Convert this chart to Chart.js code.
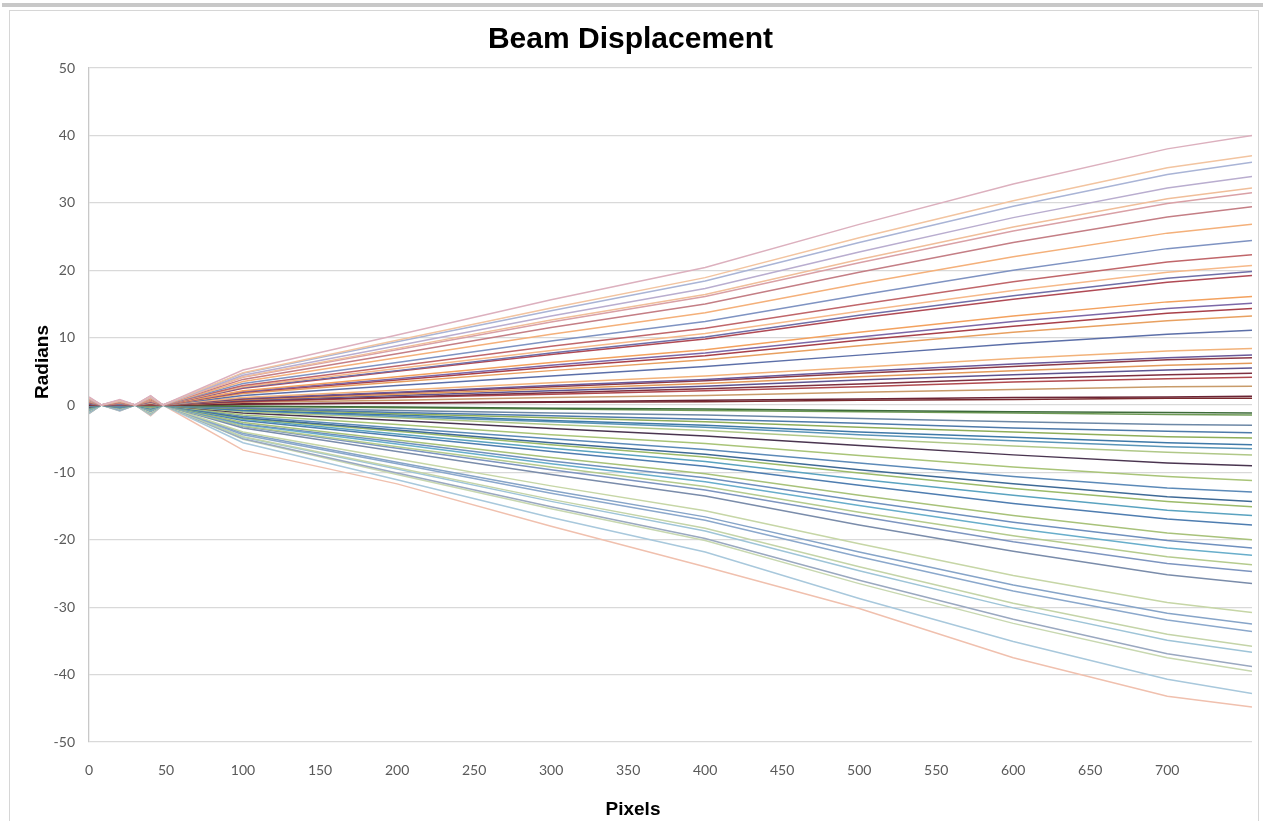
<!DOCTYPE html>
<html>
<head>
<meta charset="utf-8">
<title>Beam Displacement</title>
<script src="https://cdn.jsdelivr.net/npm/chart.js@4.4.1/dist/chart.umd.min.js"></script>
<style>
  html, body { margin: 0; padding: 0; background: #ffffff; }
  #wrap { position: relative; width: 1263px; height: 821px; overflow: hidden; }
  #topbar { position: absolute; left: 2px; top: 3px; width: 1261px; height: 4px; background: #c8c8c8; }
  #frame { position: absolute; left: 9px; top: 10px; width: 1248px; height: 830px; border: 1.5px solid #d6d6d6; }
  #chart { position: absolute; left: 0; top: 0; }
</style>
</head>
<body>
<div id="wrap">
  <div id="topbar"></div>
  <div id="frame"></div>
  <canvas id="chart" width="1263" height="821"></canvas>
</div>
<script>
const pixels = [0, 8, 20, 30, 40, 48, 100, 200, 300, 400, 500, 600, 700, 755];

// beams above zero, top to bottom (radians)
const upperBeams = [
  [1.2, 0, 0.8, 0, 1.4, 0, 5.2, 10.4, 15.6, 20.4, 26.8, 32.8, 38.0, 40.0],
  [1.1, 0, 0.7, 0, 1.3, 0, 4.8, 9.6, 14.4, 18.9, 24.8, 30.3, 35.2, 37.0],
  [1.1, 0, 0.7, 0, 1.3, 0, 4.7, 9.4, 14.0, 18.4, 24.1, 29.5, 34.2, 36.0],
  [1.0, 0, 0.7, 0, 1.2, 0, 4.4, 8.8, 13.2, 17.3, 22.7, 27.8, 32.2, 33.9],
  [1.0, 0, 0.6, 0, 1.1, 0, 4.2, 8.4, 12.6, 16.4, 21.6, 26.4, 30.6, 32.2],
  [0.9, 0, 0.6, 0, 1.1, 0, 4.1, 8.2, 12.3, 16.1, 21.1, 25.8, 29.9, 31.5],
  [0.9, 0, 0.6, 0, 1.0, 0, 3.8, 7.6, 11.5, 15.0, 19.7, 24.1, 27.9, 29.4],
  [0.8, 0, 0.5, 0, 0.9, 0, 3.5, 7.0, 10.5, 13.7, 18.0, 22.0, 25.5, 26.8],
  [0.7, 0, 0.5, 0, 0.9, 0, 3.2, 6.3, 9.5, 12.4, 16.3, 20.0, 23.2, 24.4],
  [0.7, 0, 0.4, 0, 0.8, 0, 2.9, 5.8, 8.7, 11.4, 14.9, 18.3, 21.2, 22.3],
  [0.6, 0, 0.4, 0, 0.7, 0, 2.7, 5.4, 8.1, 10.6, 13.9, 17.0, 19.7, 20.7],
  [0.6, 0, 0.4, 0, 0.7, 0, 2.6, 5.1, 7.7, 10.1, 13.3, 16.2, 18.8, 19.8],
  [0.6, 0, 0.4, 0, 0.7, 0, 2.5, 5.0, 7.5, 9.8, 12.9, 15.7, 18.2, 19.2],
  [0.5, 0, 0.3, 0, 0.6, 0, 2.1, 4.2, 6.3, 8.2, 10.8, 13.2, 15.3, 16.1],
  [0.5, 0, 0.3, 0, 0.5, 0, 2.0, 3.9, 5.9, 7.7, 10.1, 12.4, 14.3, 15.1],
  [0.4, 0, 0.3, 0, 0.5, 0, 1.9, 3.7, 5.6, 7.3, 9.6, 11.7, 13.6, 14.3],
  [0.4, 0, 0.3, 0, 0.5, 0, 1.7, 3.4, 5.1, 6.7, 8.8, 10.8, 12.5, 13.2],
  [0.3, 0, 0.2, 0, 0.4, 0, 1.4, 2.9, 4.3, 5.7, 7.4, 9.1, 10.5, 11.1],
  [0.3, 0, 0.2, 0, 0.3, 0, 1.1, 2.2, 3.3, 4.3, 5.6, 6.9, 8.0, 8.4],
  [0.2, 0, 0.1, 0, 0.3, 0, 1.0, 1.9, 2.9, 3.8, 5.0, 6.1, 7.0, 7.4],
  [0.2, 0, 0.1, 0, 0.2, 0, 0.9, 1.8, 2.7, 3.6, 4.7, 5.7, 6.7, 7.0],
  [0.2, 0, 0.1, 0, 0.2, 0, 0.8, 1.6, 2.4, 3.2, 4.2, 5.1, 5.9, 6.2],
  [0.2, 0, 0.1, 0, 0.2, 0, 0.7, 1.4, 2.1, 2.8, 3.7, 4.5, 5.2, 5.5],
  [0.1, 0, 0.1, 0, 0.2, 0, 0.6, 1.2, 1.8, 2.4, 3.1, 3.9, 4.5, 4.7],
  [0.1, 0, 0.1, 0, 0.1, 0, 0.5, 1.1, 1.6, 2.1, 2.7, 3.4, 3.9, 4.1],
  [0.1, 0, 0.1, 0, 0.1, 0, 0.4, 0.7, 1.1, 1.4, 1.9, 2.3, 2.7, 2.8],
  [0, 0, 0, 0, 0, 0, 0.2, 0.3, 0.5, 0.7, 0.9, 1.1, 1.2, 1.3],
  [0, 0, 0, 0, 0, 0, 0.1, 0.3, 0.4, 0.5, 0.7, 0.8, 1.0, 1.0]
];

// beams below zero, top to bottom (radians)
const lowerBeams = [
  [0, 0, 0, 0, 0, 0, -0.2, -0.3, -0.5, -0.6, -0.8, -1.0, -1.1, -1.2],
  [0, 0, 0, 0, -0.1, 0, -0.2, -0.4, -0.6, -0.8, -1.0, -1.2, -1.4, -1.5],
  [-0.1, 0, -0.1, 0, -0.1, 0, -0.4, -0.8, -1.2, -1.5, -2.0, -2.5, -2.9, -3.0],
  [-0.1, 0, -0.1, 0, -0.1, 0, -0.5, -1.1, -1.6, -2.1, -2.7, -3.4, -3.9, -4.1],
  [-0.1, 0, -0.1, 0, -0.2, 0, -0.6, -1.3, -1.9, -2.5, -3.3, -4.0, -4.7, -4.9],
  [-0.2, 0, -0.1, 0, -0.2, 0, -0.8, -1.5, -2.3, -3.0, -4.0, -4.8, -5.6, -5.9],
  [-0.2, 0, -0.1, 0, -0.2, 0, -0.8, -1.7, -2.5, -3.3, -4.4, -5.3, -6.2, -6.5],
  [-0.2, 0, -0.1, 0, -0.3, 0, -1.0, -1.9, -2.9, -3.8, -5.0, -6.1, -7.0, -7.4],
  [-0.3, 0, -0.2, 0, -0.3, 0, -1.2, -2.3, -3.5, -4.6, -6.0, -7.4, -8.6, -9.0],
  [-0.3, 0, -0.2, 0, -0.4, 0, -1.5, -2.9, -4.4, -5.7, -7.5, -9.2, -10.6, -11.2],
  [-0.4, 0, -0.3, 0, -0.5, 0, -1.7, -3.4, -5.0, -6.6, -8.6, -10.6, -12.3, -12.9],
  [-0.4, 0, -0.3, 0, -0.5, 0, -1.9, -3.7, -5.6, -7.3, -9.6, -11.7, -13.6, -14.3],
  [-0.5, 0, -0.3, 0, -0.5, 0, -2.0, -3.9, -5.9, -7.7, -10.1, -12.4, -14.3, -15.1],
  [-0.5, 0, -0.3, 0, -0.6, 0, -2.1, -4.3, -6.4, -8.4, -11.0, -13.4, -15.6, -16.4],
  [-0.5, 0, -0.4, 0, -0.6, 0, -2.3, -4.6, -6.9, -9.1, -11.9, -14.6, -16.9, -17.8],
  [-0.6, 0, -0.4, 0, -0.7, 0, -2.6, -5.2, -7.8, -10.2, -13.4, -16.4, -19.0, -20.0],
  [-0.6, 0, -0.4, 0, -0.7, 0, -2.8, -5.5, -8.3, -10.8, -14.2, -17.4, -20.1, -21.2],
  [-0.7, 0, -0.4, 0, -0.8, 0, -2.9, -5.8, -8.7, -11.4, -14.9, -18.3, -21.2, -22.3],
  [-0.7, 0, -0.5, 0, -0.8, 0, -3.1, -6.2, -9.2, -12.1, -15.9, -19.4, -22.5, -23.7],
  [-0.7, 0, -0.5, 0, -0.9, 0, -3.2, -6.4, -9.6, -12.6, -16.5, -20.3, -23.5, -24.7],
  [-0.8, 0, -0.5, 0, -0.9, 0, -3.4, -6.9, -10.3, -13.5, -17.8, -21.7, -25.2, -26.5],
  [-0.9, 0, -0.6, 0, -1.1, 0, -4.0, -8.0, -12.0, -15.7, -20.6, -25.3, -29.3, -30.8],
  [-1.0, 0, -0.7, 0, -1.1, 0, -4.2, -8.5, -12.7, -16.6, -21.8, -26.7, -30.9, -32.5],
  [-1.0, 0, -0.7, 0, -1.2, 0, -4.4, -8.7, -13.1, -17.1, -22.5, -27.6, -31.9, -33.6],
  [-1.1, 0, -0.7, 0, -1.3, 0, -4.7, -9.3, -14.0, -18.3, -24.0, -29.4, -34.0, -35.8],
  [-1.1, 0, -0.7, 0, -1.3, 0, -4.8, -9.5, -14.3, -18.7, -24.6, -30.1, -34.9, -36.7],
  [-1.2, 0, -0.8, 0, -1.4, 0, -5.0, -10.1, -15.1, -19.8, -26.0, -31.8, -36.9, -38.8],
  [-1.2, 0, -0.8, 0, -1.4, 0, -5.1, -10.3, -15.4, -20.1, -26.5, -32.4, -37.5, -39.5],
  [-1.3, 0, -0.9, 0, -1.5, 0, -5.6, -11.1, -16.7, -21.8, -28.7, -35.1, -40.7, -42.8],
  [-1.3, 0, -0.9, 0, -1.6, 0, -6.7, -11.7, -18.0, -24.0, -30.2, -37.5, -43.2, -44.8]
];

const upperColors = [
  '#dcb0be', '#f2c4a0', '#a9b4d6', '#b9adcf', '#f0be9a', '#d9a0a6', '#c47e85',
  '#f4b07a', '#7f93c2', '#c0666a', '#f6b98a', '#6f6fa8', '#b04a55', '#f3a15e',
  '#7c68a8', '#a8404a', '#e8a060', '#5c6fa8', '#f2b27a', '#6a5a9a', '#8c3a48',
  '#e39a5a', '#5e5490', '#7e3040', '#b04a4f', '#c89b6a', '#6b2535', '#7a2a2e'
];
const lowerColors = [
  '#3e6b3a', '#6e9a55', '#6d88a6', '#4e7aaa', '#8fae5a', '#3f79a8', '#5a95b8',
  '#b0c888', '#4a3550', '#a9c478', '#5c8ab8', '#3f6a96', '#9cbb6a', '#5aa3c0',
  '#4e7db0', '#a8c27a', '#6f90be', '#68aecb', '#b5cb8e', '#7d95c0', '#7a8caa',
  '#c6d6a6', '#86a4c8', '#8ba8cc', '#c4d4a8', '#9ec4d8', '#9aa8c0', '#c8d8b0',
  '#a8c8dc', '#f0c0ae'
];

const xTicks = [0, 50, 100, 150, 200, 250, 300, 350, 400, 450, 500, 550, 600, 650, 700];
const yTicks = [-50, -40, -30, -20, -10, 0, 10, 20, 30, 40, 50];

function makeDataset(values, color, i) {
  return {
    label: 'Beam ' + i,
    data: values.map((v, k) => ({ x: pixels[k], y: v })),
    borderColor: color,
    borderWidth: 1.5,
    pointRadius: 0,
    tension: 0,
    fill: false
  };
}

const datasets = [];
upperBeams.forEach((b, i) => datasets.push(makeDataset(b, upperColors[i], i + 1)));
lowerBeams.forEach((b, i) => datasets.push(makeDataset(b, lowerColors[i], upperBeams.length + i + 1)));

// axis titles sit off-centre in the original, so draw them by hand
const axisTitles = {
  id: 'axisTitles',
  afterDraw(chart) {
    const ctx = chart.ctx;
    ctx.save();
    ctx.fillStyle = '#000000';
    ctx.font = 'bold 19px "Liberation Sans", Arial, sans-serif';
    ctx.textAlign = 'center';
    ctx.textBaseline = 'middle';
    ctx.fillText('Pixels', 633, 810);
    ctx.translate(43, 362);
    ctx.rotate(-Math.PI / 2);
    ctx.fillText('Radians', 0, 0);
    ctx.restore();
  }
};

const tickFont = { family: 'Lato, "Open Sans", sans-serif', size: 14 };

new Chart(document.getElementById('chart').getContext('2d'), {
  type: 'line',
  data: { datasets: datasets },
  options: {
    responsive: false,
    animation: false,
    layout: { padding: { left: 9, right: 11, top: 11, bottom: 0 } },
    plugins: {
      legend: { display: false },
      tooltip: { enabled: false },
      title: {
        display: true,
        text: 'Beam Displacement',
        color: '#000000',
        font: { family: '"Liberation Sans", Arial, sans-serif', size: 30, weight: 'bold', lineHeight: 1.2 },
        padding: { top: 11, bottom: 10 }
      }
    },
    scales: {
      x: {
        type: 'linear',
        min: 0,
        max: 755,
        afterBuildTicks: (s) => { s.ticks = xTicks.map(v => ({ value: v })); },
        afterFit: (s) => { s.height = 79; },
        grid: { display: false, drawTicks: false },
        border: { display: false },
        ticks: { color: '#5a5a5a', font: tickFont, padding: 20, maxRotation: 0, autoSkip: false }
      },
      y: {
        type: 'linear',
        min: -50,
        max: 50,
        afterBuildTicks: (s) => { s.ticks = yTicks.map(v => ({ value: v })); },
        afterFit: (s) => { s.width = 80; },
        grid: { color: '#d9d9d9', lineWidth: 1.3, drawTicks: false },
        border: { display: true, color: '#c8c8c8', width: 1.3 },
        ticks: { color: '#5a5a5a', font: tickFont, padding: 14 }
      }
    }
  },
  plugins: [axisTitles]
});
</script>
</body>
</html>
